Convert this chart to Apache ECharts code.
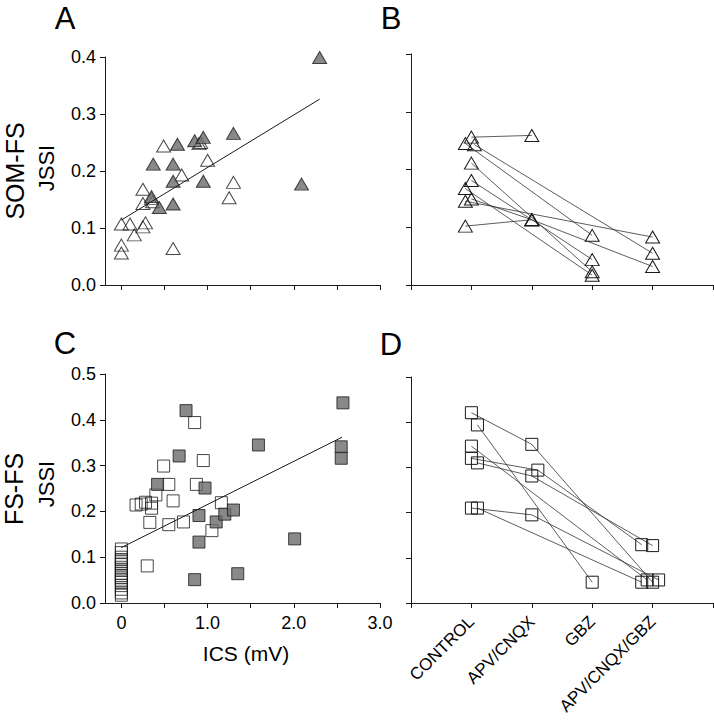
<!DOCTYPE html>
<html>
<head>
<meta charset="utf-8">
<script src="https://cdn.jsdelivr.net/npm/echarts@6/dist/echarts.min.js"></script>
<style>
html,body{margin:0;padding:0;background:#fff;}
#chart{width:714px;height:720px;}
</style>
</head>
<body>
<div id="chart"></div>
<script>
// ---------- DATA ----------
// Panel A: SOM-FS JSSI vs ICS (mV)
const somOpen = [[0,0.107],[0,0.070],[0,0.056],[0.10,0.107],[0.15,0.088],[0.25,0.168],[0.25,0.143],[0.25,0.102],[0.28,0.109],[0.35,0.152],[0.36,0.146],[0.49,0.244],[0.70,0.193],[0.60,0.064],[0.90,0.248],[0.92,0.250],[1.00,0.219],[1.25,0.153],[1.30,0.180]];
const somFilled = [[0.37,0.212],[0.44,0.136],[0.35,0.155],[0.65,0.247],[0.60,0.212],[0.60,0.182],[0.60,0.142],[0.85,0.253],[0.95,0.259],[0.95,0.182],[1.30,0.266],[2.09,0.177],[2.30,0.399]];
const somFit = [[0,0.114],[2.30,0.326]];

// Panel C: FS-FS JSSI vs ICS (mV)
const fsOpen = [[0,0.118],[0,0.110],[0,0.100],[0,0.095],[0,0.090],[0,0.085],[0,0.078],[0,0.072],[0,0.065],[0,0.060],[0,0.055],[0,0.050],[0,0.045],[0,0.038],[0,0.030],[0,0.022],[0,0.017],
  [0.17,0.214],[0.23,0.216],[0.28,0.220],[0.35,0.218],[0.35,0.207],[0.40,0.236],[0.33,0.176],[0.30,0.081],[0.49,0.299],[0.55,0.259],[0.60,0.223],[0.55,0.171],[0.72,0.177],[0.85,0.394],[0.95,0.311],[0.87,0.259],[1.05,0.158],[1.16,0.219]];
const fsFilled = [[0.75,0.420],[0.67,0.321],[0.42,0.259],[0.97,0.251],[0.90,0.191],[0.90,0.133],[0.85,0.051],[1.10,0.177],[1.20,0.194],[1.30,0.203],[1.35,0.064],[1.59,0.345],[2.01,0.140],[2.57,0.437],[2.55,0.341],[2.55,0.316]];
const fsFit = [[0,0.121],[2.56,0.362]];

// Panels B & D: treatment categories
const treatments = ['CONTROL','APV/CNQX','GBZ','APV/CNQX/GBZ'];

// Panel B: SOM-FS JSSI per experiment, [treatment index, value]
const somExperiments = [
  [[0,0.256],[1,0.259]],
  [[0,0.245],[2,0.086]],
  [[0,0.243],[3,0.055]],
  [[0,0.211],[2,0.023]],
  [[0,0.181],[1,0.113],[2,0.044]],
  [[0,0.167],[2,0.017]],
  [[0,0.149],[1,0.113],[3,0.032]],
  [[0,0.145],[3,0.083]],
  [[0,0.102],[1,0.113]]
];
const somJitter = [[0,0],[-0.1,0],[0.05,0],[0,0],[0,0,0],[-0.1,0],[0,0,0],[-0.1,0],[-0.1,0]];

// Panel D: FS-FS JSSI per experiment
const fsExperiments = [
  [[0,0.421],[1,0.351],[3,0.046]],
  [[0,0.394],[2,0.046]],
  [[0,0.347],[3,0.051]],
  [[0,0.320],[1,0.294],[3,0.129]],
  [[0,0.310],[1,0.281],[3,0.127]],
  [[0,0.210],[1,0.195],[3,0.051]],
  [[0,0.210],[3,0.046]]
];
const fsJitter = [[0,0,0],[0.1,0],[0,-0.09],[0,0.1,-0.18],[0.1,0,0],[0,0,0.1],[0.1,-0.18]];

// ---------- CHART ----------
const FONT = '"Liberation Sans", Arial, sans-serif';
const INK = '#1a1a1a';
const GRAYFILL = '#6b6b6b';
const HOLLOW = 'rgba(255,255,255,0)';

function valAxis(extra) {
  return Object.assign({
    type: 'value',
    axisLine: {show: true, onZero: false, lineStyle: {color: INK, width: 1}},
    axisTick: {show: true, inside: false, length: 5, lineStyle: {color: INK, width: 1}},
    splitLine: {show: false},
    axisLabel: {show: false}
  }, extra);
}
const ytickLabel = {show: true, color: '#000', fontFamily: FONT, fontSize: 18, margin: 9, formatter: v => v.toFixed(1)};

const series = [];
// Panel A
series.push({type:'scatter', xAxisIndex:0, yAxisIndex:0, data: somOpen, symbol:'triangle', symbolSize:[14,12],
  itemStyle:{color: HOLLOW, borderColor: INK, borderWidth: 1}, z: 2});
series.push({type:'scatter', xAxisIndex:0, yAxisIndex:0, data: somFilled, symbol:'triangle', symbolSize:[14,12],
  itemStyle:{color: GRAYFILL, borderColor: INK, borderWidth: 1}, z: 3});
series.push({type:'line', xAxisIndex:0, yAxisIndex:0, data: somFit, symbol:'none', lineStyle:{color: INK, width: 1}, z: 4});
// Panel C
series.push({type:'scatter', xAxisIndex:2, yAxisIndex:2, data: fsOpen, symbol:'rect', symbolSize:12,
  itemStyle:{color: HOLLOW, borderColor: INK, borderWidth: 1}, z: 2});
series.push({type:'scatter', xAxisIndex:2, yAxisIndex:2, data: fsFilled, symbol:'rect', symbolSize:12,
  itemStyle:{color: GRAYFILL, borderColor: INK, borderWidth: 1}, z: 3});
series.push({type:'line', xAxisIndex:2, yAxisIndex:2, data: fsFit, symbol:'none', lineStyle:{color: INK, width: 1}, z: 4});
// Panel B
somExperiments.forEach((exp, i) => {
  series.push({type:'line', xAxisIndex:1, yAxisIndex:1,
    data: exp.map((p, j) => [p[0] + 1 + somJitter[i][j], p[1]]),
    symbol:'triangle', symbolSize:[14,12], showSymbol:true,
    itemStyle:{color: HOLLOW, borderColor: INK, borderWidth: 1},
    lineStyle:{color:'#333', width:0.8}});
});
// Panel D
fsExperiments.forEach((exp, i) => {
  series.push({type:'line', xAxisIndex:3, yAxisIndex:3,
    data: exp.map((p, j) => [p[0] + 1 + fsJitter[i][j], p[1]]),
    symbol:'rect', symbolSize:12, showSymbol:true,
    itemStyle:{color: HOLLOW, borderColor: INK, borderWidth: 1},
    lineStyle:{color:'#333', width:0.8}});
});

const xTicksICS = [0,0.5,1,1.5,2,2.5,3];
const option = {
  animation: false,
  backgroundColor: '#fff',
  textStyle: {fontFamily: FONT},
  grid: [
    {left: 105, top: 57, width: 275, height: 228},
    {left: 411, top: 54, width: 302, height: 231},
    {left: 105, top: 374, width: 275, height: 229},
    {left: 411, top: 377, width: 302, height: 226}
  ],
  xAxis: [
    valAxis({gridIndex:0, min:-0.19, max:3.0, axisTick:{show:true, length:5, customValues: xTicksICS, lineStyle:{color:INK}}}),
    valAxis({gridIndex:1, min:0, max:5, interval:1}),
    valAxis({gridIndex:2, min:-0.19, max:3.0,
      axisTick:{show:true, length:5, customValues: xTicksICS, lineStyle:{color:INK}},
      axisLabel:{show:true, customValues:[0,1,2,3], color:'#000', fontFamily:FONT, fontSize:18, margin:11,
        formatter: v => v === 0 ? '0' : v.toFixed(1)}}),
    valAxis({gridIndex:3, min:0, max:5, interval:1,
      axisLabel:{show:true, customValues:[1,2,3,4], rotate:45, color:'#000', fontFamily:FONT, fontSize:17, margin:16,
        formatter: v => treatments[Math.round(v) - 1] || ''}})
  ],
  yAxis: [
    valAxis({gridIndex:0, min:0, max:0.4, interval:0.1, axisLabel: ytickLabel}),
    valAxis({gridIndex:1, min:0, max:0.4, interval:0.1}),
    valAxis({gridIndex:2, min:0, max:0.5, interval:0.1, axisLabel: ytickLabel}),
    valAxis({gridIndex:3, min:0, max:0.5, interval:0.1})
  ],
  graphic: [
    {type:'text', x:65, y:18, style:{text:'A', fontFamily:FONT, fontSize:31, fill:'#000', align:'center', verticalAlign:'middle'}},
    {type:'text', x:391, y:18, style:{text:'B', fontFamily:FONT, fontSize:31, fill:'#000', align:'center', verticalAlign:'middle'}},
    {type:'text', x:65, y:343, style:{text:'C', fontFamily:FONT, fontSize:31, fill:'#000', align:'center', verticalAlign:'middle'}},
    {type:'text', x:391, y:344, style:{text:'D', fontFamily:FONT, fontSize:31, fill:'#000', align:'center', verticalAlign:'middle'}},
    {type:'text', x:15, y:171, rotation:Math.PI/2, style:{text:'SOM-FS', fontFamily:FONT, fontSize:25, fill:'#000', align:'center', verticalAlign:'middle'}},
    {type:'text', x:46, y:168, rotation:Math.PI/2, style:{text:'JSSI', fontFamily:FONT, fontSize:22, fill:'#000', align:'center', verticalAlign:'middle'}},
    {type:'text', x:14, y:489, rotation:Math.PI/2, style:{text:'FS-FS', fontFamily:FONT, fontSize:25, fill:'#000', align:'center', verticalAlign:'middle'}},
    {type:'text', x:46, y:484, rotation:Math.PI/2, style:{text:'JSSI', fontFamily:FONT, fontSize:22, fill:'#000', align:'center', verticalAlign:'middle'}},
    {type:'text', x:246, y:653, style:{text:'ICS (mV)', fontFamily:FONT, fontSize:21, fill:'#000', align:'center', verticalAlign:'middle'}}
  ],
  series: series
};

const chart = echarts.init(document.getElementById('chart'), null, {renderer: 'svg'});
chart.setOption(option);
</script>
</body>
</html>
